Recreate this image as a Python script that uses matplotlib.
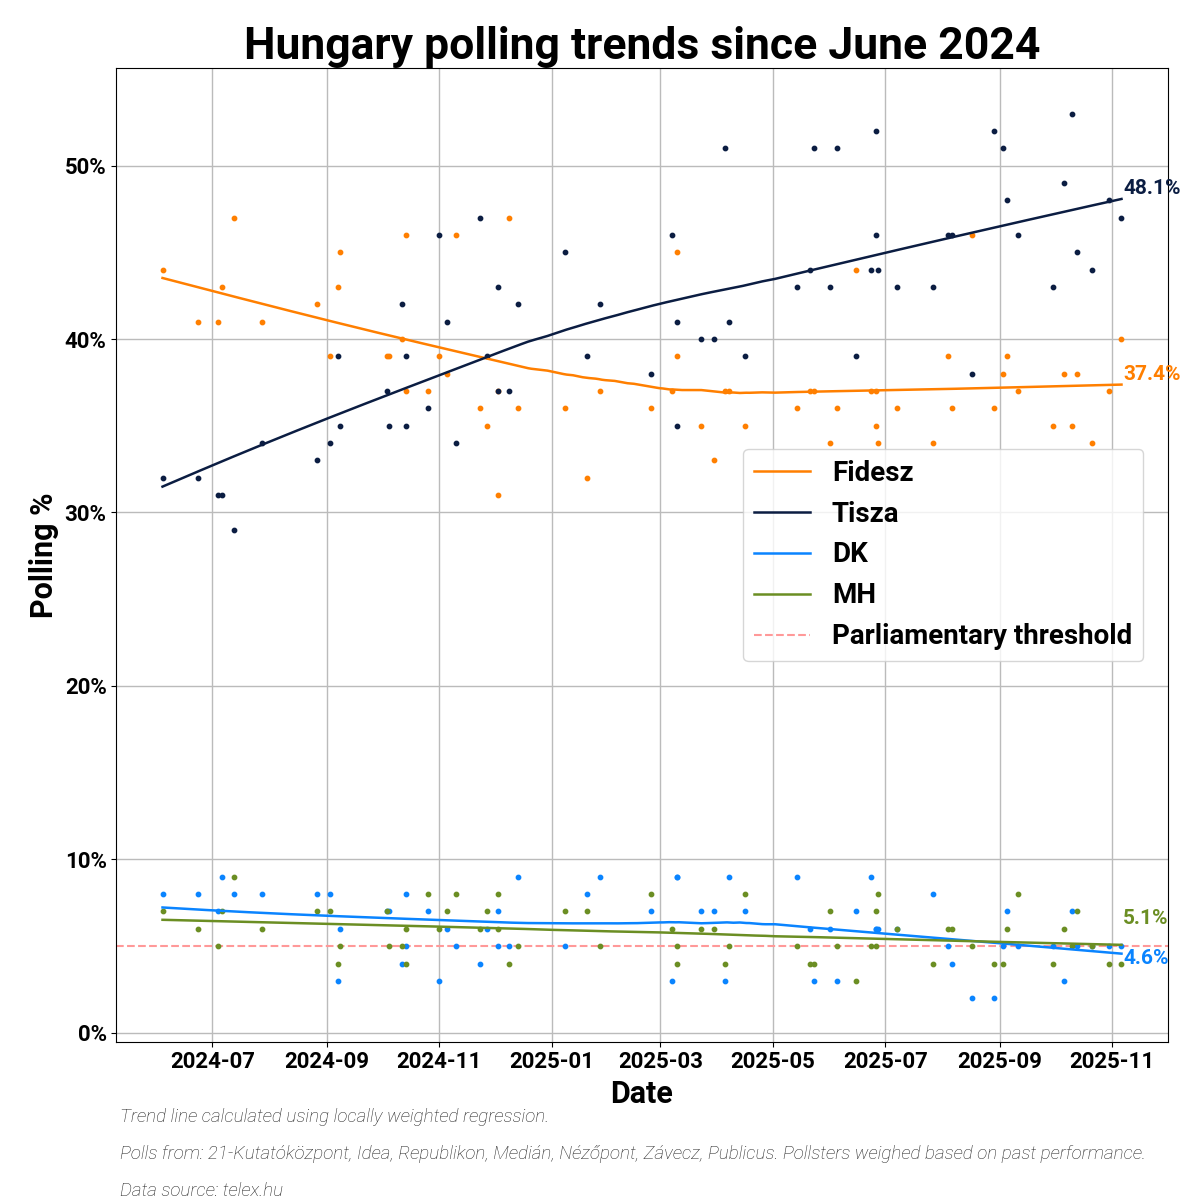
import numpy as np
import pandas as pd
import matplotlib.pyplot as plt
import matplotlib.dates as mdates
from matplotlib.ticker import FuncFormatter

plt.rcParams['font.family'] = ['Roboto', 'DejaVu Sans']

dates = ["2024-06-04", "2024-06-23", "2024-07-04", "2024-07-06", "2024-07-13", "2024-07-28",
         "2024-08-27", "2024-09-03", "2024-09-07", "2024-09-08", "2024-10-04", "2024-10-05",
         "2024-10-12", "2024-10-14", "2024-10-14", "2024-10-26", "2024-11-01", "2024-11-05",
         "2024-11-10", "2024-11-23", "2024-11-27", "2024-12-03", "2024-12-03", "2024-12-09",
         "2024-12-14", "2025-01-08", "2025-01-20", "2025-01-27", "2025-02-24", "2025-03-07",
         "2025-03-10", "2025-03-10", "2025-03-23", "2025-03-30", "2025-04-05", "2025-04-07",
         "2025-04-16", "2025-05-14", "2025-05-21", "2025-05-23", "2025-06-01", "2025-06-05",
         "2025-06-15", "2025-06-23", "2025-06-26", "2025-06-26", "2025-06-27", "2025-07-07",
         "2025-07-27", "2025-08-04", "2025-08-06", "2025-08-17", "2025-08-29", "2025-09-03",
         "2025-09-05", "2025-09-11", "2025-09-30", "2025-10-06", "2025-10-10", "2025-10-13",
         "2025-10-21", "2025-10-30", "2025-11-06"]

fidesz = [44, 41, 41, 43, 47, 41, 42, 39, 43, 45, 39, 39, 40, 46, 37, 37, 39, 38, 46, 36, 35,
          31, 37, 47, 36, 36, 32, 37, 36, 37, 39, 45, 35, 33, 37, 37, 35, 36, 37, 37, 34, 36,
          44, 37, 37, 35, 34, 36, 34, 39, 36, 46, 36, 38, 39, 37, 35, 38, 35, 38, 34, 37, 40]
tisza = [32, 32, 31, 31, 29, 34, 33, 34, 39, 35, 37, 35, 42, 39, 35, 36, 46, 41, 34, 47, 39,
         43, 37, 37, 42, 45, 39, 42, 38, 46, 41, 35, 40, 40, 51, 41, 39, 43, 44, 51, 43, 51,
         39, 44, 52, 46, 44, 43, 43, 46, 46, 38, 52, 51, 48, 46, 43, 49, 53, 45, 44, 48, 47]
dk = [8, 8, 7, 9, 8, 8, 8, 8, 3, 6, 7, 7, 4, 8, 5, 7, 3, 6, 5, 4, 6, 7, 5, 5, 9, 5, 8, 9, 7,
      3, 9, 9, 7, 7, 3, 9, 7, 9, 6, 3, 6, 3, 7, 9, 6, 6, 6, 6, 8, 5, 4, 2, 2, 5, 7, 5, 5, 3,
      7, 5, 5, 5, 5]
mh = [7, 6, 5, 7, 9, 6, 7, 7, 4, 5, 7, 5, 5, 4, 6, 8, 6, 7, 8, 6, 7, 8, 6, 4, 5, 7, 7, 5, 8,
      6, 4, 5, 6, 6, 4, 5, 8, 5, 4, 4, 7, 5, 3, 5, 7, 5, 8, 6, 4, 6, 6, 5, 4, 4, 6, 8, 4, 6,
      5, 7, 5, 4, 4]

parties = ["Fidesz", "Tisza", "DK", "MH"]
colors = ["#ff7f00", "#0b1d42", "#0a84ff", "#6b8e23"]
label_shift = [0.0, 0.0, -0.9, 0.9]
threshold = 5


def lowess(x, y, grid, frac=0.75):
    x = np.asarray(x, float)
    y = np.asarray(y, float)
    n = len(x)
    k = int(np.ceil(frac * n))
    out = np.empty(len(grid))
    for i, g in enumerate(grid):
        d = np.abs(x - g)
        h = np.sort(d)[k - 1] * 1.05
        w = np.clip(1 - (d / h) ** 3, 0, None) ** 3
        W = np.sqrt(w)
        A = np.vstack([np.ones(n), x - g]).T
        coef = np.linalg.lstsq(A * W[:, None], y * W, rcond=None)[0]
        out[i] = coef[0]
    return out


t = pd.to_datetime(dates)
tn = mdates.date2num(t)
grid = np.linspace(tn.min(), tn.max(), 300)
grid_t = mdates.num2date(grid)

fig = plt.figure(figsize=(12, 12), dpi=100)
ax = fig.add_axes([0.097, 0.132, 0.876, 0.811])

for name, vals, c, sh in zip(parties, [fidesz, tisza, dk, mh], colors, label_shift):
    ax.scatter(t, vals, s=10, color=c, zorder=3)
    trend = lowess(tn, vals, grid)
    ax.plot(grid_t, trend, color=c, lw=1.8, label=name, zorder=4)
    ax.text(t[-1] + pd.Timedelta(days=1), trend[-1] + 0.6 + sh, f"{trend[-1]:.1f}%", color=c,
            fontsize=15, fontweight='bold', va='center', ha='left')

ax.axhline(threshold, color="#ff9999", ls='--', lw=1.5, label="Parliamentary threshold", zorder=2)

ax.set_xlim(pd.Timestamp("2024-05-10"), pd.Timestamp("2025-12-01"))
ax.set_ylim(-0.5, 55.6)
ax.yaxis.set_major_formatter(FuncFormatter(lambda v, p: f"{v:.0f}%"))
ax.xaxis.set_major_locator(mdates.MonthLocator(bymonth=[1, 3, 5, 7, 9, 11]))
ax.xaxis.set_major_formatter(mdates.DateFormatter("%Y-%m"))
ax.grid(True, color="#bbbbbb", lw=1)
ax.set_axisbelow(True)
for lab in ax.get_xticklabels() + ax.get_yticklabels():
    lab.set_fontsize(16)
    lab.set_fontweight('bold')
ax.set_xlabel("Date", fontsize=22, fontweight='bold')
ax.set_ylabel("Polling %", fontsize=22, fontweight='bold')
ax.set_title("Hungary polling trends since June 2024", fontsize=32, fontweight='bold')

ax.legend(loc='center right', bbox_to_anchor=(0.99, 0.5), prop={'size': 20, 'weight': 'bold'})

notes = ["Trend line calculated using locally weighted regression.",
         "Polls from: 21-Kutatóközpont, Idea, Republikon, Medián, Nézőpont, Závecz, Publicus. Pollsters weighed based on past performance.",
         "Data source: telex.hu"]
for i, s in enumerate(notes):
    fig.text(0.1, 0.065 - i * 0.031, s, fontsize=13.5, fontstyle='italic', fontweight='light',
             color="#222222")

fig.savefig("out.png", dpi=100)
